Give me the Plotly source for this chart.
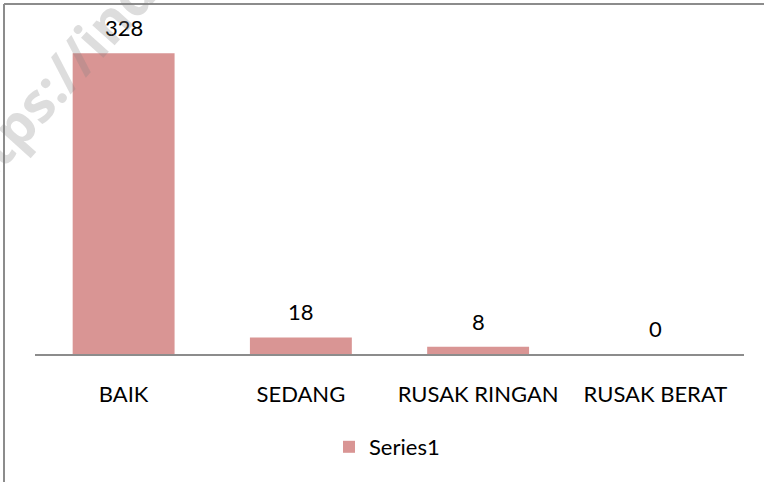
import plotly.graph_objects as go

categories = ["BAIK", "SEDANG", "RUSAK RINGAN", "RUSAK BERAT"]
values = [328, 18, 8, 0]
series_name = "Series1"

W, H = 764, 482
L, R, T, B = 35, 20, 33, 128
pw, ph = W - L - R, H - T - B

def px_x(p):
    return (p - L) / pw

def px_y(p):
    return (H - B - p) / ph

bar_color = "#D99594"
font_family = "Lato, 'Open Sans', sans-serif"

fig = go.Figure()
fig.add_trace(go.Bar(
    x=categories, y=values, name=series_name,
    marker=dict(color=bar_color, line=dict(width=0)),
    showlegend=True,
))

annotations = []
for c, v in zip(categories, values):
    annotations.append(dict(
        x=c, y=v, xref="x", yref="y", text=str(v), showarrow=False,
        yanchor="bottom", yshift=10,
        font=dict(family=font_family, size=22, color="#000000"),
    ))

# faint watermark from the source image
annotations.append(dict(
    x=px_x(44), y=px_y(91), xref="paper", yref="paper",
    text="<b>https://ind</b>", showarrow=False, textangle=-48,
    font=dict(family="'Open Sans', sans-serif", size=55, color="rgba(128,128,128,0.27)"),
    xanchor="center", yanchor="middle",
))

border = dict(color="#8c8c8c", width=2)
fig.update_layout(
    width=W, height=H,
    margin=dict(l=L, r=R, t=T, b=B),
    paper_bgcolor="white", plot_bgcolor="white",
    bargap=0.425,
    font=dict(family=font_family, size=22, color="#000000"),
    xaxis=dict(
        showline=True, linecolor="#8c8c8c", linewidth=2,
        ticks="outside", ticklen=20, tickcolor="rgba(0,0,0,0)",
        tickfont=dict(family=font_family, size=22, color="#000000"),
        showgrid=False, zeroline=False, fixedrange=True,
    ),
    yaxis=dict(
        range=[0, 350], visible=False, showgrid=False, zeroline=False,
    ),
    legend=dict(
        orientation="h", x=px_x(387), xanchor="center",
        y=px_y(447), yanchor="middle",
        font=dict(family=font_family, size=22, color="#000000"),
        itemwidth=30,
    ),
    annotations=annotations,
    shapes=[
        dict(type="line", xref="paper", yref="paper",
             x0=px_x(4), x1=px_x(W), y0=px_y(4), y1=px_y(4),
             line=border, layer="below"),
        dict(type="line", xref="paper", yref="paper",
             x0=px_x(4), x1=px_x(4), y0=px_y(4), y1=px_y(H),
             line=border, layer="below"),
    ],
)

fig.write_html(
    "out.html", config={"displayModeBar": False},
    post_script=("document.body.style.margin='0';"
                 "document.body.style.overflow='hidden';"
                 "document.documentElement.style.overflow='hidden';"),
)
